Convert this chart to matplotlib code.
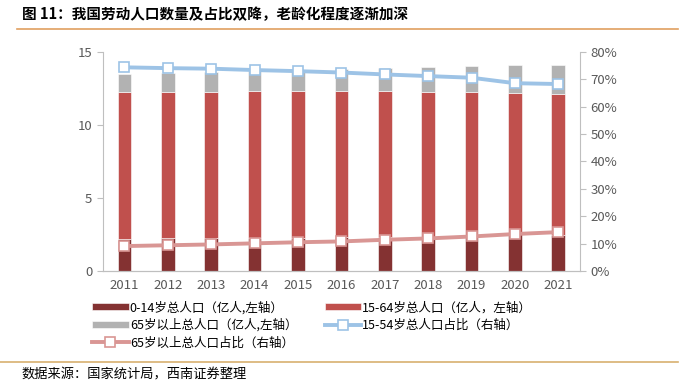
import matplotlib.pyplot as plt
import numpy as np
from matplotlib.lines import Line2D

plt.rcParams['font.family'] = ['Noto Sans CJK SC', 'DejaVu Sans']

# data (population in 100 million, shares in %)
years = ['2011', '2012', '2013', '2014', '2015', '2016', '2017', '2018', '2019', '2020', '2021']
pop_0_14 = [2.22, 2.23, 2.23, 2.26, 2.27, 2.31, 2.34, 2.35, 2.37, 2.53, 2.47]
pop_15_64 = [10.03, 10.04, 10.06, 10.05, 10.04, 10.03, 9.98, 9.94, 9.89, 9.69, 9.65]
pop_65 = [1.23, 1.27, 1.32, 1.38, 1.44, 1.50, 1.58, 1.67, 1.76, 1.91, 2.01]
share_15_64 = [74.4, 74.1, 73.9, 73.4, 73.0, 72.5, 71.8, 71.2, 70.6, 68.6, 68.3]
share_65 = [9.1, 9.4, 9.7, 10.1, 10.5, 10.8, 11.4, 11.9, 12.6, 13.5, 14.2]

c_dark = '#843232'
c_red = '#C0504D'
c_gray = '#B2B2B2'
c_blue = '#9DC3E6'
c_pink = '#D99694'
c_tick = '#595959'

fig = plt.figure(figsize=(6.81, 3.82), dpi=100)
ax = fig.add_axes([0.1508, 0.2906, 0.7009, 0.5733])

x = np.arange(len(years))
w = 0.315
b1 = ax.bar(x, pop_0_14, w, color=c_dark, edgecolor='white', linewidth=0.4)
b2 = ax.bar(x, pop_15_64, w, bottom=pop_0_14, color=c_red, edgecolor='white', linewidth=0.4)
bottom3 = np.array(pop_0_14) + np.array(pop_15_64)
b3 = ax.bar(x, pop_65, w, bottom=bottom3, color=c_gray, edgecolor='white', linewidth=0.4)

ax.set_xlim(-0.5, len(years) - 0.5)
ax.set_ylim(0, 15)
ax.set_yticks([0, 5, 10, 15])
ax.set_xticks(x)
ax.set_xticklabels(years)

ax2 = ax.twinx()
l1, = ax2.plot(x, share_15_64, color=c_blue, lw=2.8, marker='s', ms=7,
               mfc='white', mec=c_blue, mew=1.2, zorder=5)
l2, = ax2.plot(x, share_65, color=c_pink, lw=2.8, marker='s', ms=7,
               mfc='white', mec=c_pink, mew=1.2, zorder=5)
ax2.set_ylim(0, 80)
ax2.set_yticks(np.arange(0, 81, 10))
ax2.set_yticklabels([f'{v}%' for v in range(0, 81, 10)])

for a in (ax, ax2):
    a.spines['top'].set_visible(False)
    for s in ['left', 'right', 'bottom']:
        a.spines[s].set_color('#BFBFBF')
    a.tick_params(colors=c_tick, labelsize=9.5, length=4, width=0.8)
    a.tick_params(axis='y', color='#BFBFBF')
ax.tick_params(axis='x', length=0, pad=6)
ax2.spines['left'].set_visible(False)
ax.spines['right'].set_visible(False)

handles = [b1, b3, l2, b2, l1]
labels = ['0-14岁总人口（亿人,左轴）', '65岁以上总人口（亿人,左轴）', '65岁以上总人口占比（右轴）',
          '15-64岁总人口（亿人，左轴）', '15-54岁总人口占比（右轴）']
fig.legend(handles, labels, ncol=2, loc='upper left', bbox_to_anchor=(0.119, 0.242),
           frameon=False, fontsize=9, handlelength=2.9, handleheight=0.5,
           handletextpad=0.1, columnspacing=2.2, labelspacing=0.35, labelcolor='black')

fig.text(0.032, 0.962, '图 11：我国劳动人口数量及占比双降，老龄化程度逐渐加深',
         fontsize=10.5, fontweight='bold', va='center', ha='left')
fig.add_artist(Line2D([0.025, 0.995], [0.923, 0.923], color='#E0A060', lw=1.2))
fig.add_artist(Line2D([0.0, 0.995], [0.052, 0.052], color='#D8B070', lw=1.2))
fig.text(0.032, 0.018, '数据来源：国家统计局，西南证券整理', fontsize=9.5, va='center', ha='left',
         style='italic')

fig.savefig('out.png', dpi=100)
